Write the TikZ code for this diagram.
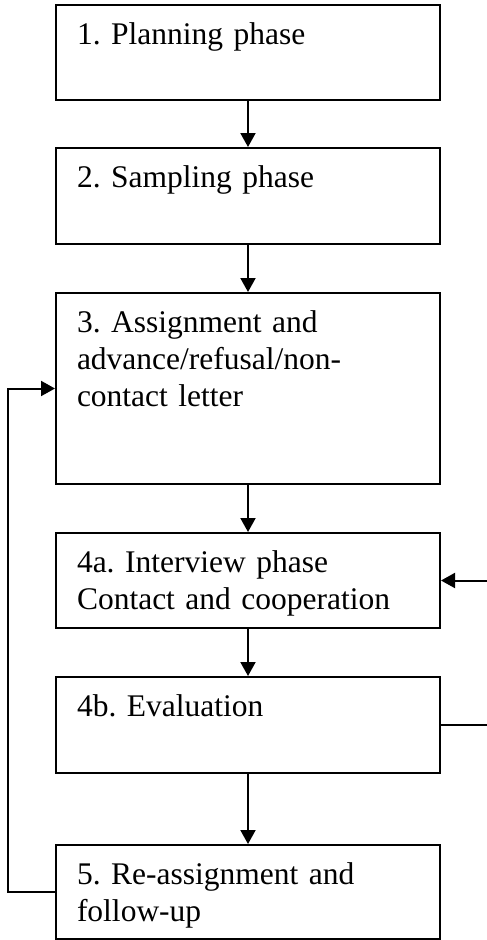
\documentclass[tikz,border=0pt]{standalone}
\usepackage{fontspec}
\setmainfont{Liberation Serif}
\frenchspacing
\usetikzlibrary{positioning, arrows.meta}
\tikzset{phase/.style={draw,line width=2pt,anchor=north,text width=342pt,inner xsep=21pt,inner ysep=0pt,
                       align=left,text height=39pt,font=\fontsize{31.5}{37}\selectfont},
         flow/.style={line width=2pt,-{Triangle[length=14pt,width=15pt]}},
        }

\begin{document}
\begin{tikzpicture}[x=1pt,y=-1pt]
        \useasboundingbox (0,0) rectangle (487,940);

        \node[phase,text depth=56pt](plan)at(248,4){1. Planning phase};
        \node[phase,text depth=57pt](sample)at(248,147){2. Sampling phase};
        \node[phase,text depth=152pt](assign)at(248,292){3. Assignment and\\advance/refusal/non-\\contact letter};
        \node[phase,text depth=56pt](interview)at(248,532){4a. Interview phase\\Contact and cooperation};
        \node[phase,text depth=57pt](eval)at(248,676){4b. Evaluation};
        \node[phase,text depth=55pt](reassign)at(248,844){5. Re-assignment and\\follow-up};

        \draw[flow](plan.south)--(sample.north);
        \draw[flow](sample.south)--(assign.north);
        \draw[flow](assign.south)--(interview.north);
        \draw[flow](interview.south)--(eval.north);
        \draw[flow](eval.south)--(reassign.north);

        \coordinate(lft)at(8,0);
        \coordinate(rgt)at(492,0);
        \draw[flow](reassign.west)--(reassign.west -| lft)|-(assign.west);
        \draw[flow](eval.east)--(eval.east -| rgt)|-(interview.east);
    \end{tikzpicture}
\end{document}
